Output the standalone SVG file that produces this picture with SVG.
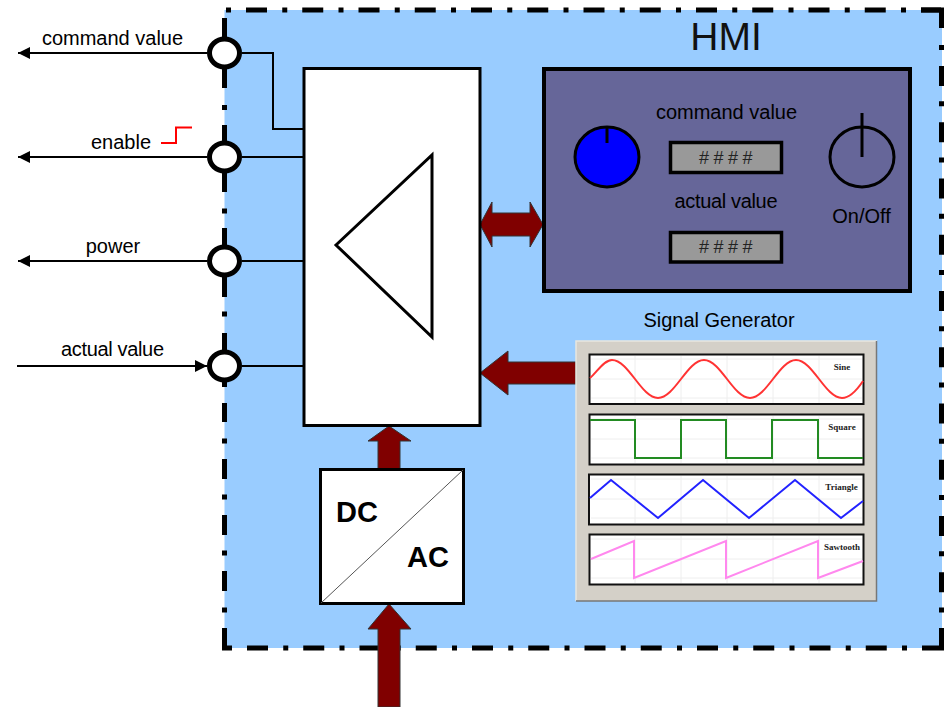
<svg xmlns="http://www.w3.org/2000/svg" width="946" height="707" viewBox="0 0 946 707">
<style>
text{font-family:"Liberation Sans",Arial,sans-serif;fill:#000}
.lbl{font-size:20px;text-anchor:middle}
.dash{fill:none;stroke:#000;stroke-width:5}
.wire{fill:none;stroke:#000;stroke-width:2}
.term{fill:#fff;stroke:#000;stroke-width:5}
.box{fill:#fff;stroke:#000;stroke-width:3}
.big{fill:#800000;stroke:#333;stroke-width:1}
.disp{fill:#999;stroke:#000;stroke-width:3.5}
.hash{font-size:18px;text-anchor:middle;letter-spacing:4.500px;fill:#222}
.chart{fill:#fff;stroke:#111;stroke-width:2}
.grid{fill:none;stroke:#eee;stroke-width:1}
.sig{fill:none;stroke-width:2}
.cap{font-family:"Liberation Serif","Times New Roman",serif;font-weight:bold;font-size:9px;text-anchor:middle;fill:#222}
.pw{font-size:29px;font-weight:bold}
</style>
<defs>
<marker id="ah" markerUnits="userSpaceOnUse" markerWidth="12" markerHeight="12" refX="12" refY="6" orient="auto"><path d="M0,0L12,6L0,12z" fill="#000"/></marker>
<g id="vgrid"><path class="grid" d="M635,2V49M681,2V49M727,2V49M773,2V49M819,2V49M591,5H862M591,25H862M591,44H862"/></g>
</defs>

<g id="hmi-frame">
<rect x="224.500" y="10" width="717.500" height="638" fill="#99ccff"/>
<path class="dash" stroke-dasharray="5 15 21 15.25" d="M226,10H941"/>
<path class="dash" d="M921,10H941.500V28"/>
<path class="dash" stroke-dasharray="5 16 20 15.25" d="M941.500,45V628"/>
<path class="dash" d="M941.500,628V648H923"/>
<path class="dash" stroke-dasharray="5 15 21 15.25" d="M227,648H923"/>
<path class="dash" d="M224.500,628V648H227M224.500,18V88M224.500,105V110M224.500,125V192M224.500,208.500V213.500M224.500,228V297M224.500,311.500V316.500M224.500,333V387M224.500,403V422M224.500,438.500V443.500M224.500,459V479M224.500,494.500V499.500M224.500,515V535M224.500,550.500V555.500M224.500,571V591M224.500,607.500V612.500"/>
</g>

<g id="connectors">
<path class="wire" marker-end="url(#ah)" d="M207,53H18"/>
<path class="wire" d="M242,53H273V129H304"/>
<path class="wire" marker-end="url(#ah)" d="M207,157H18"/>
<path class="wire" d="M242,157H304"/>
<path class="wire" marker-end="url(#ah)" d="M207,261H18"/>
<path class="wire" d="M242,261H304"/>
<path class="wire" marker-end="url(#ah)" d="M17,366H207"/>
<path class="wire" d="M242,366H304"/>
<path class="big" d="M480,224.500L492,202V213H530V202L543,224.500L530,247V236H492V247Z"/>
<path class="big" d="M480,373L508,351V362H576V384H508V395Z"/>
<path class="big" d="M389,426L411,441H400V469H378V441H368Z"/>
<path class="big" d="M389,604L411,629H400V707H378V629H368Z"/>
</g>

<g id="term-command"><ellipse class="term" cx="224.500" cy="53" rx="15" ry="14"/><text class="lbl" x="112.500" y="45">command value</text></g>
<g id="term-enable"><ellipse class="term" cx="224.500" cy="157" rx="15" ry="14"/><text class="lbl" x="121" y="149">enable</text><path d="M161,143H176V127.500H192" fill="none" stroke="#f00" stroke-width="2"/></g>
<g id="term-power"><ellipse class="term" cx="224.500" cy="261" rx="15" ry="14"/><text class="lbl" x="113" y="253">power</text></g>
<g id="term-actual"><ellipse class="term" cx="224.500" cy="366" rx="15" ry="14"/><text class="lbl" x="112.500" y="356" textLength="103">actual value</text></g>

<g id="amplifier">
<rect class="box" x="304" y="68.500" width="176" height="357"/>
<path d="M336,245L432,155V337Z" fill="#fff" stroke="#000" stroke-width="3"/>
</g>

<g id="converter">
<rect class="box" x="320.500" y="469.500" width="143" height="134"/>
<path d="M321,603L463,470" stroke="#555" stroke-width="1"/>
<text class="pw" x="336" y="522">DC</text>
<text class="pw" x="407" y="567">AC</text>
</g>

<g id="hmi-title"><text x="726" y="50" font-size="39" text-anchor="middle" style="fill:#111">HMI</text></g>

<g id="hmi-panel">
<rect x="544" y="69" width="366" height="222" fill="#666699" stroke="#000" stroke-width="4"/>
<ellipse cx="607" cy="157" rx="32" ry="30" fill="#00f" stroke="#000" stroke-width="3"/>
<path d="M607,127V143" stroke="#000" stroke-width="3"/>
<ellipse cx="862" cy="157" rx="32" ry="30" fill="none" stroke="#000" stroke-width="3"/>
<path d="M862,113V157" stroke="#000" stroke-width="3"/>
<text class="lbl" x="726.500" y="119">command value</text>
<text class="lbl" x="726" y="208" textLength="103">actual value</text>
<text class="lbl" x="861.500" y="223">On/Off</text>
<rect class="disp" x="670.500" y="142.500" width="111" height="30"/>
<text class="hash" x="728" y="164">####</text>
<rect class="disp" x="670.500" y="232.500" width="111" height="29.500"/>
<text class="hash" x="728" y="253">####</text>
</g>

<g id="signal-generator">
<text class="lbl" x="719" y="327">Signal Generator</text>
<rect x="576" y="341" width="301" height="260" fill="#d4d0c8"/>
<path d="M576,601V341H877" fill="none" stroke="#e8e6e0" stroke-width="1.500"/>
<path d="M876.500,341V601H576" fill="none" stroke="#777" stroke-width="1.500"/>

<rect class="chart" x="589.500" y="354.500" width="274" height="49.500"/>
<use href="#vgrid" y="354"/>
<path class="sig" stroke="#ff3333" d="M590,378C597,372 604,360 612,360C628.750,360 641.250,398 658,398C674.750,398 687.250,360 704,360C720.750,360 733.250,398 750,398C766.750,398 779.250,360 796,360C812.750,360 825.250,398 842,398C850,398 857,390 863,381"/>
<text class="cap" x="842" y="370">Sine</text>

<rect class="chart" x="589.500" y="414.500" width="274" height="50"/>
<use href="#vgrid" y="414"/>
<path class="sig" stroke="#228b22" d="M590,420H635V458H681V420H726V458H772V420H818V458H863"/>
<text class="cap" x="842" y="430">Square</text>

<rect class="chart" x="589" y="474.500" width="274.500" height="50"/>
<use href="#vgrid" y="474"/>
<path class="sig" stroke="#2222ff" d="M590,498L611,480L658,518L703,480L749,518L795,480L841,518L863,501"/>
<text class="cap" x="841.500" y="490">Triangle</text>

<rect class="chart" x="589.500" y="534.500" width="274" height="50"/>
<use href="#vgrid" y="534"/>
<path class="sig" stroke="#ff88ee" d="M591,559L634,541V578L726,541V578L818,541V578L863,561"/>
<text class="cap" x="842" y="550">Sawtooth</text>
</g>
</svg>
